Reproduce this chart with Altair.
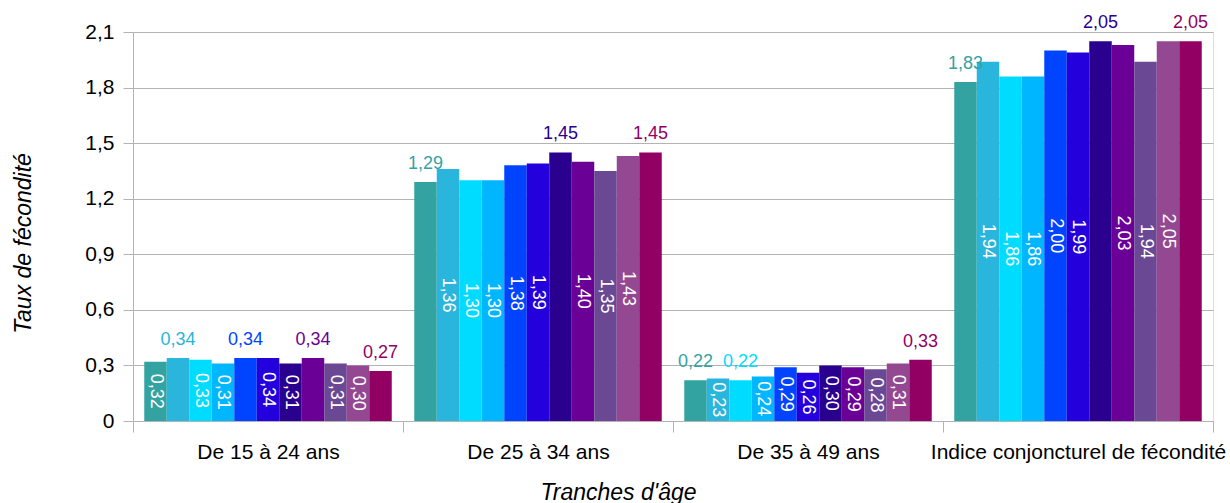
import altair as alt
import pandas as pd

groups = ["De 15 à 24 ans", "De 25 à 34 ans", "De 35 à 49 ans", "Indice conjoncturel de fécondité"]
series = [f"Série {i}" for i in range(1, 12)]
colors = ["#33a3a2", "#2ab5dc", "#00dcff", "#00b6ff", "#0044ff",
          "#2300dc", "#2a008e", "#6b0096", "#6a4894", "#944892", "#920063"]

vals_15_24 = [0.32, 0.34, 0.33, 0.31, 0.34, 0.34, 0.31, 0.34, 0.31, 0.30, 0.27]
vals_25_34 = [1.29, 1.36, 1.30, 1.30, 1.38, 1.39, 1.45, 1.40, 1.35, 1.43, 1.45]
vals_35_49 = [0.22, 0.23, 0.22, 0.24, 0.29, 0.26, 0.30, 0.29, 0.28, 0.31, 0.33]
vals_icf = [1.83, 1.94, 1.86, 1.86, 2.00, 1.99, 2.05, 2.03, 1.94, 2.05, 2.05]

# indices of series whose value label sits above the bar (others inside, rotated)
above_15_24 = [1, 4, 7, 10]
above_25_34 = [0, 6, 10]
above_35_49 = [0, 2, 10]
above_icf = [0, 6, 10]

y_ticks = [0, 0.3, 0.6, 0.9, 1.2, 1.5, 1.8, 2.1]

rows = []
for g, vals, above in zip(groups,
                          [vals_15_24, vals_25_34, vals_35_49, vals_icf],
                          [above_15_24, above_25_34, above_35_49, above_icf]):
    for i, (s, v) in enumerate(zip(series, vals)):
        rows.append({"groupe": g, "serie": s, "valeur": v,
                     "pos": "dessus" if i in above else "dedans"})
df = pd.DataFrame(rows)

FONT = "Liberation Sans"
GRAY = "#b3b3b3"

x_enc = alt.X("groupe:N", sort=groups,
              scale=alt.Scale(paddingInner=0, paddingOuter=0),
              axis=alt.Axis(title="Tranches d'âge", labelAngle=0, tickBand="extent",
                            tickSize=11, labelPadding=9, labelFontSize=21,
                            labelColor="#000000", domainColor=GRAY, tickColor=GRAY,
                            grid=False, titleFontSize=23, titleFontStyle="italic",
                            titleFontWeight="normal", titleColor="#000000",
                            titleX=485, titleY=78, titleBaseline="alphabetic",
                            titleAlign="center", labelLimit=400))
xoff_enc = alt.XOffset("serie:N", sort=series,
                       scale=alt.Scale(paddingInner=0, paddingOuter=0.5))
color_enc = alt.Color("serie:N", sort=series,
                      scale=alt.Scale(domain=series, range=colors), legend=None)
y_scale = alt.Scale(domain=[0, 2.1], nice=False, zero=True)
y_axis = alt.Axis(title="Taux de fécondité", values=y_ticks,
                  labelExpr="datum.value == 0 ? '0' : replace(format(datum.value, '.1f'), '.', ',')",
                  grid=True, gridColor=GRAY, domainColor=GRAY, tickColor=GRAY,
                  tickSize=10, labelPadding=9, labelFontSize=21,
                  labelColor="#000000", titleFontSize=23,
                  titleFontStyle="italic", titleFontWeight="normal",
                  titleColor="#000000", titleAngle=-90, titleX=-103,
                  titleY=211, titleAlign="center",
                  titleBaseline="alphabetic")

base = alt.Chart(df).transform_calculate(
    label="replace(format(datum.valeur, '.2f'), '.', ',')",
    mid="datum.valeur / 2",
).encode(x=x_enc, xOffset=xoff_enc)

bars = base.mark_bar(strokeWidth=0).encode(
    y=alt.Y("valeur:Q", scale=y_scale, axis=y_axis),
    color=color_enc,
)

above = base.transform_filter("datum.pos == 'dessus'").mark_text(
    dy=-13, baseline="alphabetic", align="center", fontSize=18, font=FONT
).encode(
    y=alt.Y("valeur:Q", scale=y_scale, axis=y_axis),
    text="label:N",
    color=color_enc,
)

inside = base.transform_filter("datum.pos == 'dedans'").mark_text(
    angle=90, baseline="middle", align="center", fontSize=18, font=FONT,
    color="#ffffff"
).encode(
    y=alt.Y("mid:Q", scale=y_scale, axis=y_axis),
    text="label:N",
)

chart = alt.layer(bars, above, inside).properties(
    width=1080, height=389,
    autosize=alt.AutoSizeParams(type="none"),
    padding={"left": 133, "top": 32, "right": 17, "bottom": 82},
).configure_view(stroke=GRAY, strokeWidth=1).configure_axis(
    labelFont=FONT, titleFont=FONT
).configure(background="#ffffff")

chart.save("out.html", embed_options={"renderer": "svg", "actions": False})
